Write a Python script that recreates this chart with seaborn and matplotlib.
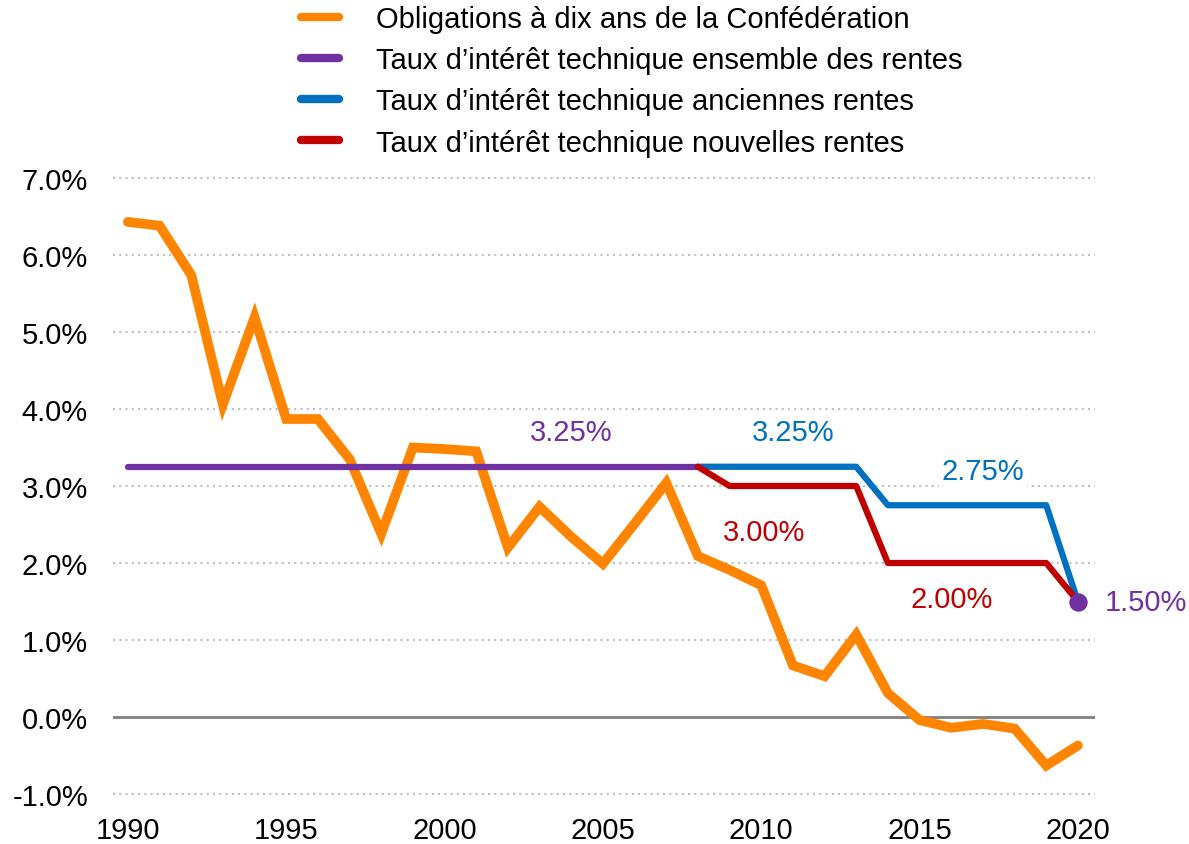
import matplotlib
matplotlib.use('Agg')
import matplotlib.pyplot as plt
import seaborn as sns

# ten-year Confederation bonds, yearly
years = list(range(1990, 2021))
bond_yield = [6.43, 6.38, 5.74, 4.06, 5.19, 3.87, 3.87, 3.35, 2.38, 3.50,
              3.48, 3.45, 2.20, 2.73, 2.34, 1.99, 2.51, 3.04, 2.09, 1.91,
              1.71, 0.67, 0.53, 1.07, 0.31, -0.04, -0.14, -0.09, -0.15, -0.63,
              -0.37]

# technical interest rates
all_years = [1990, 2008]
all_rate = [3.25, 3.25]
old_years = [2008, 2013, 2014, 2019, 2020]
old_rate = [3.25, 3.25, 2.75, 2.75, 1.50]
new_years = [2008, 2009, 2013, 2014, 2019, 2020]
new_rate = [3.25, 3.00, 3.00, 2.00, 2.00, 1.50]

labels = ['Obligations à dix ans de la Confédération',
          'Taux d\u2019intérêt technique ensemble des rentes',
          'Taux d\u2019intérêt technique anciennes rentes',
          'Taux d\u2019intérêt technique nouvelles rentes']

orange = '#FF8400'
purple = '#7030A0'
blue = '#0070C0'
red = '#C00000'

sns.set_style('white')
plt.rcParams['font.family'] = ['Liberation Sans', 'DejaVu Sans']
plt.rcParams['text.color'] = 'black'

fig = plt.figure(figsize=(11.89, 8.45), dpi=100)
ax = fig.add_axes([113 / 1189, 1 - 795 / 845, (1095 - 113) / 1189, (795 - 179) / 845])

for v in range(-1, 8):
    if v == 0:
        ax.axhline(0, color='#808080', lw=2, zorder=1)
    else:
        ax.axhline(v, color='#BFBFBF', lw=1.5, ls=(0, (1, 2)), zorder=1, clip_on=False)

sns.lineplot(x=years, y=bond_yield, ax=ax, color=orange, lw=7, label=labels[0],
             solid_capstyle='round', solid_joinstyle='miter', zorder=3)
sns.lineplot(x=all_years, y=all_rate, ax=ax, color=purple, lw=4.5, label=labels[1], zorder=4)
sns.lineplot(x=old_years, y=old_rate, ax=ax, color=blue, lw=4.5, label=labels[2], zorder=4)
sns.lineplot(x=new_years, y=new_rate, ax=ax, color=red, lw=4.5, label=labels[3], zorder=5)
ax.scatter([2020], [1.50], s=150, color=purple, zorder=6)

fs = 21
box = dict(facecolor='white', edgecolor='none', pad=2)
ax.text(2004.0, 3.70, '3.25%', color=purple, fontsize=fs, ha='center', va='center', bbox=box)
ax.text(2011.0, 3.70, '3.25%', color=blue, fontsize=fs, ha='center', va='center', bbox=box)
ax.text(2017.0, 3.19, '2.75%', color=blue, fontsize=fs, ha='center', va='center', bbox=box)
ax.text(2010.1, 2.40, '3.00%', color=red, fontsize=fs, ha='center', va='center', bbox=box)
ax.text(2016.0, 1.53, '2.00%', color=red, fontsize=fs, ha='center', va='center', bbox=box)
ax.text(2020.85, 1.49, '1.50%', color=purple, fontsize=fs, ha='left', va='center')

ax.set_xlim(1989.53, 2020.54)
ax.set_ylim(-1.0, 7.0)
ax.set_xticks(range(1990, 2021, 5))
ax.set_yticks(range(-1, 8))
ax.set_yticklabels([f'{v:.1f}%' for v in range(-1, 8)])
ax.tick_params(axis='both', length=0, labelsize=fs, colors='black')
ax.tick_params(axis='y', pad=18)
ax.tick_params(axis='x', pad=16)
for s in ax.spines.values():
    s.set_visible(False)
ax.set_xlabel('')
ax.set_ylabel('')

leg = ax.legend(loc='upper left', bbox_to_anchor=(286 / 1189, 1.01), bbox_transform=fig.transFigure,
                frameon=False, fontsize=fs, handlelength=1.3, handletextpad=1.3,
                labelspacing=0.45, borderaxespad=0.1)
for t in leg.get_texts():
    t.set_color('black')
for h in leg.get_lines():
    h.set_linewidth(6)
    h.set_solid_capstyle('round')

fig.savefig('out.png', dpi=100)
